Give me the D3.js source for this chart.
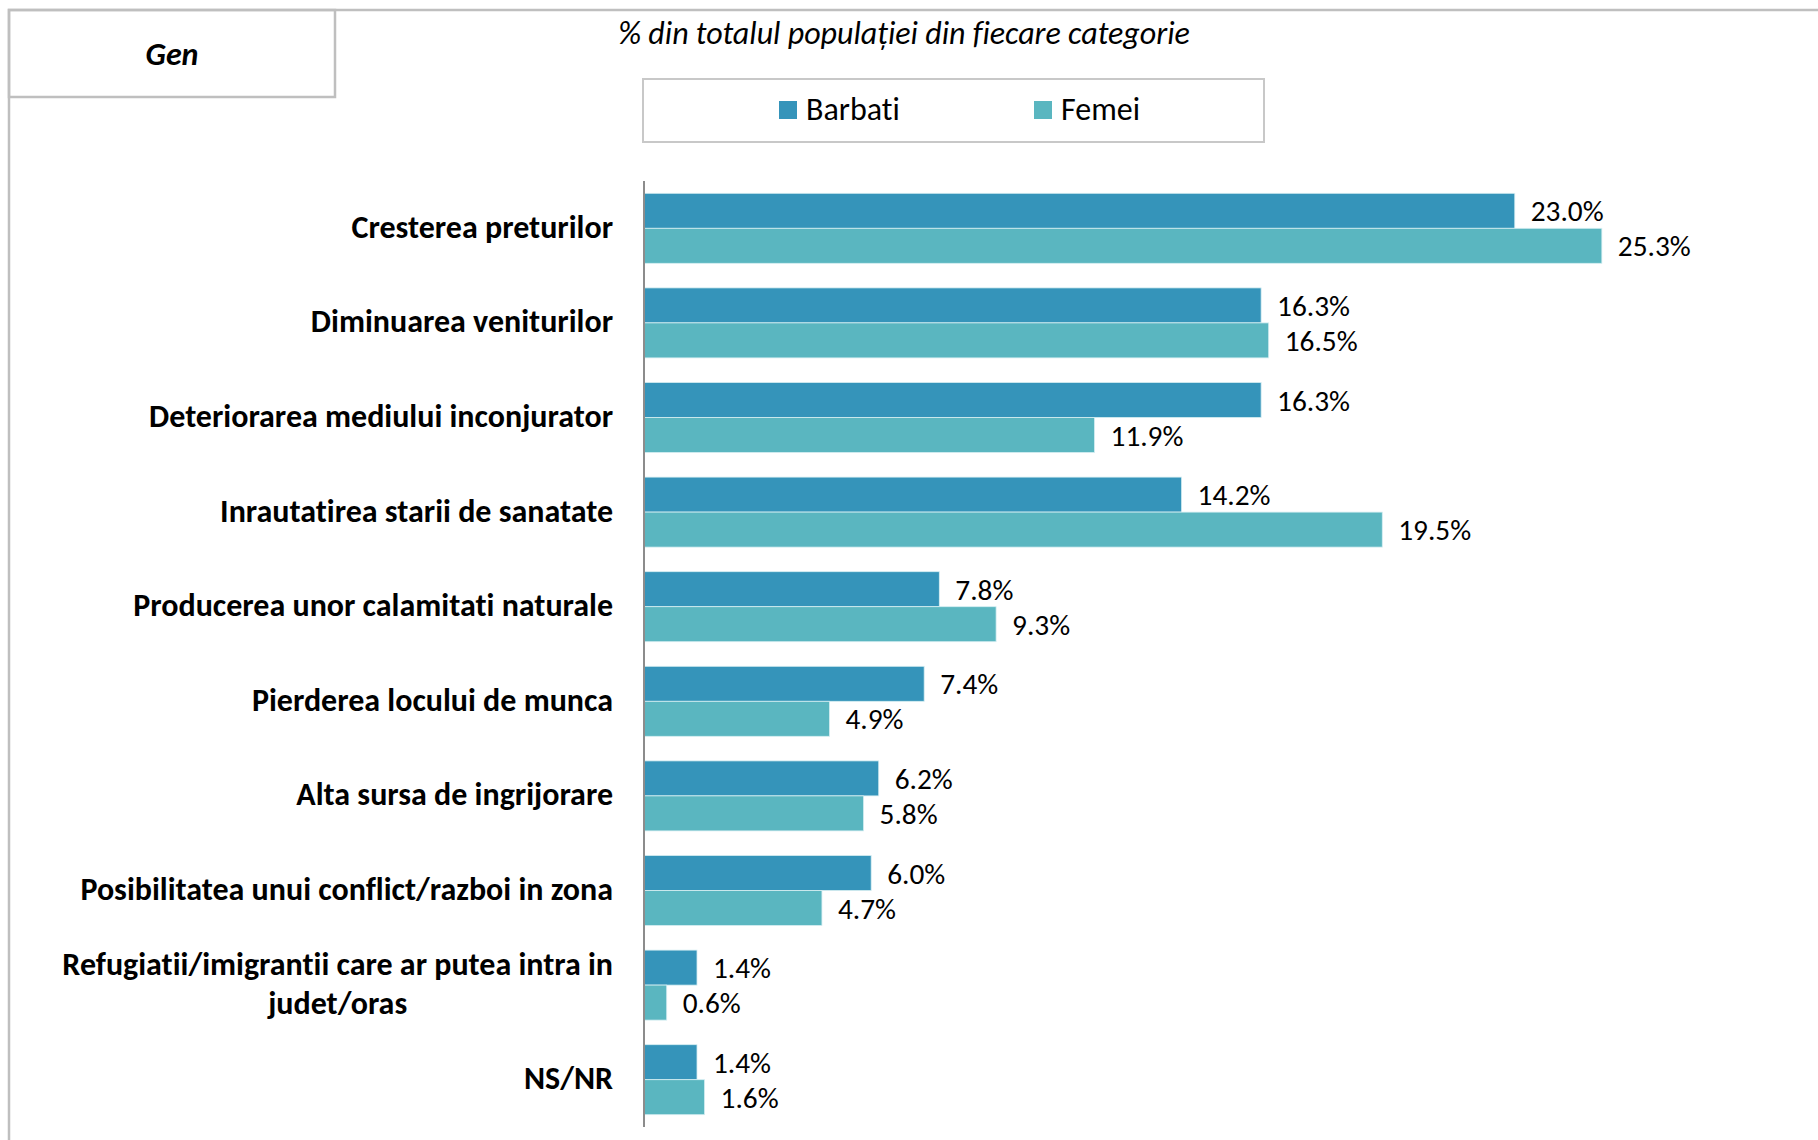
<!DOCTYPE html>
<html><head><meta charset="utf-8">
<script src="https://cdn.jsdelivr.net/npm/d3@7"></script>
<style>
html,body{margin:0;padding:0;background:#fff;}
svg{display:block;}
text{font-family:Carlito, Calibri, Lato, "Noto Sans", sans-serif;fill:#000;font-variant-ligatures:none;font-feature-settings:"liga" 0, "clig" 0;}
</style></head>
<body>
<svg id="chart" width="1818" height="1140"></svg>
<script>
const categories = [
  "Cresterea preturilor",
  "Diminuarea veniturilor",
  "Deteriorarea mediului inconjurator",
  "Inrautatirea starii de sanatate",
  "Producerea unor calamitati naturale",
  "Pierderea locului de munca",
  "Alta sursa de ingrijorare",
  "Posibilitatea unui conflict/razboi in zona",
  "Refugiatii/imigrantii care ar putea intra in judet/oras",
  "NS/NR"
];
const categoryLines = [
  ["Cresterea preturilor"],
  ["Diminuarea veniturilor"],
  ["Deteriorarea mediului inconjurator"],
  ["Inrautatirea starii de sanatate"],
  ["Producerea unor calamitati naturale"],
  ["Pierderea locului de munca"],
  ["Alta sursa de ingrijorare"],
  ["Posibilitatea unui conflict/razboi in zona"],
  ["Refugiatii/imigrantii care ar putea intra in", "judet/oras"],
  ["NS/NR"]
];
const seriesNames = ["Barbati", "Femei"];
const barbati = [23.0, 16.3, 16.3, 14.2, 7.8, 7.4, 6.2, 6.0, 1.4, 1.4];
const femei   = [25.3, 16.5, 11.9, 19.5, 9.3, 4.9, 5.8, 4.7, 0.6, 1.6];
const colors = ["#3594ba", "#5ab6c0"];
const titleText = "% din totalul populației din fiecare categorie";
const panelText = "Gen";

const svg = d3.select("#chart");

// frame
svg.append("path").attr("d","M9,1140 V10 H1818").attr("fill","none").attr("stroke","#bfbfbf").attr("stroke-width",2.5);
svg.append("rect").attr("x",9).attr("y",10).attr("width",326).attr("height",87)
  .attr("fill","none").attr("stroke","#bfbfbf").attr("stroke-width",2.5);
svg.append("text").attr("x",172).attr("y",65).attr("text-anchor","middle")
  .style("font-weight","bold").style("font-style","italic").style("font-size","32px").text(panelText);

// title
svg.append("text").attr("x",904).attr("y",44).attr("text-anchor","middle")
  .style("font-style","italic").style("font-size","32px").text(titleText);

// legend
svg.append("rect").attr("x",643).attr("y",79).attr("width",621).attr("height",63)
  .attr("fill","#fff").attr("stroke","#c8c8c8").attr("stroke-width",2);
const legX = [779, 1034];
seriesNames.forEach((n,i)=>{
  svg.append("rect").attr("x",legX[i]).attr("y",101).attr("width",18).attr("height",18).attr("fill",colors[i]);
  svg.append("text").attr("x",legX[i]+27).attr("y",120).style("font-size","32px").text(n);
});

// scales
const x0 = 644;
const x = d3.scaleLinear().domain([0, 25.3]).range([x0, x0 + 25.3*37.86]);
const y = d3.scaleBand().domain(categories).range([181, 1127]).paddingInner(0.26).paddingOuter(0.13);
const yInner = d3.scaleBand().domain(seriesNames).range([0, y.bandwidth()]);

const data = categories.map((c,i)=>({cat:c, lines:categoryLines[i], vals:[barbati[i], femei[i]]}));

const g = svg.append("g");
const groups = g.selectAll("g.grp").data(data).enter().append("g").attr("class","grp")
  .attr("transform", d=>`translate(0,${y(d.cat)})`);

groups.selectAll("rect").data(d=>d.vals.map((v,j)=>({v, s:seriesNames[j], j}))).enter().append("rect")
  .attr("x", x(0)).attr("y", d=>yInner(d.s))
  .attr("width", d=>x(d.v)-x(0)).attr("height", yInner.bandwidth())
  .attr("fill", d=>colors[d.j]).attr("stroke","#d6eef2").attr("stroke-width",0.8);

groups.selectAll("text.val").data(d=>d.vals.map((v,j)=>({v, s:seriesNames[j], j}))).enter().append("text")
  .attr("class","val")
  .attr("x", d=>x(d.v)+16).attr("y", d=>yInner(d.s)+yInner.bandwidth()/2)
  .attr("dy","0.36em").style("font-size","29.3px")
  .text(d=>d.v.toFixed(1)+"%");

// category labels
const labelRight = 613;
groups.each(function(d){
  const gg = d3.select(this);
  const n = d.lines.length;
  const cy = y.bandwidth()/2 - 2;
  if(n===1){
    gg.append("text").attr("x",labelRight).attr("y",cy).attr("dy","0.36em")
      .attr("text-anchor","end").style("font-weight","bold").style("font-size","32px").text(d.lines[0]);
  } else {
    const t = gg.append("text").attr("text-anchor","middle").style("font-weight","bold").style("font-size","32px");
    const lh = 39.5;
    d.lines.forEach((l,k)=>{
      t.append("tspan").attr("x",0).attr("y", cy + (k-(n-1)/2)*lh).attr("dy","0.36em").text(l);
    });
    const w = t.node().getBBox().width;
    t.selectAll("tspan").attr("x", labelRight - w/2);
  }
});

// axis line
svg.append("line").attr("x1",x0).attr("x2",x0).attr("y1",181).attr("y2",1127)
  .attr("stroke","#8c8c8c").attr("stroke-width",2);
</script>
</body></html>
